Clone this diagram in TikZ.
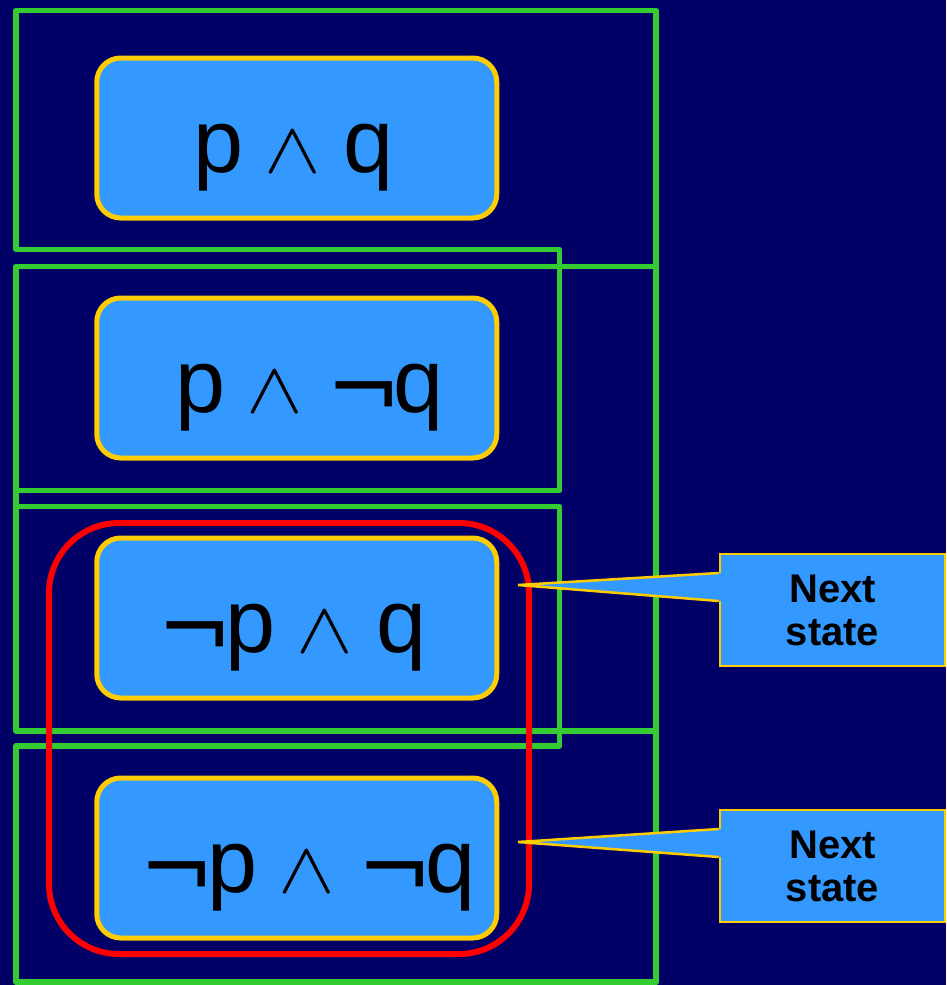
\documentclass[tikz,border=0pt]{standalone}
\usepackage{fontspec}
\setmainfont{Liberation Sans}
\newfontfamily\symfont{DejaVu Sans}
\usetikzlibrary{calc}

\definecolor{navybg}{RGB}{0,0,102}
\definecolor{framegreen}{RGB}{51,204,51}
\definecolor{boxyellow}{RGB}{255,204,0}
\definecolor{boxblue}{RGB}{51,153,255}
\definecolor{groupred}{RGB}{255,0,0}

% logical connectives
\newcommand\conj{\hspace{21pt}{\fontsize{20}{24}\selectfont\scalebox{4.1}[3.5]{$\wedge$}}\hspace{23pt}}
\newcommand\negsym{\raisebox{-7pt}{\symfont\fontsize{90}{100}\selectfont ¬}\kern-8pt}

\begin{document}
\begin{tikzpicture}[x=1pt,y=-1pt,
  frame/.style={draw=framegreen, line width=5.5pt, line join=round, line cap=round},
  statebox/.style={draw=boxyellow, fill=boxblue, line width=5pt, rounded corners=24pt,
    minimum width=400pt, minimum height=160pt, inner sep=0pt},
  formula/.style={anchor=base, inner sep=0pt, text=black, font=\fontsize{90}{100}\selectfont},
  redgroup/.style={draw=groupred, line width=6pt, rounded corners=70pt,
    minimum width=480pt, minimum height=431pt, inner sep=0pt},
  calloutbox/.style={draw=boxyellow, fill=boxblue, line width=2.5pt,
    minimum width=225pt, minimum height=112pt, inner sep=0pt, align=center,
    text=black, font=\fontsize{40}{43}\selectfont\bfseries},
  pointerline/.style={draw=boxyellow, line width=2.5pt, line join=miter}
]
% background
\fill[navybg] (0,0) rectangle (946,985);
\useasboundingbox (0,0) rectangle (946,985);

% green set frames
\draw[frame] (16,490.5) -- (559.5,490.5) -- (559.5,249.5) -- (16,249.5)
  -- (16,10.5) -- (656,10.5) -- (656,982);
\draw[frame] (16,266.5) rectangle (656,731);
\draw[frame] (16,506.5) -- (559.5,506.5) -- (559.5,746) -- (16,746)
  -- (16,982) -- (656,982);

% states
\node[statebox] (s1) at (296.75,138) {};
\node[statebox] (s2) at (296.75,378) {};
\node[statebox] (s3) at (296.75,618) {};
\node[statebox] (s4) at (296.75,858) {};

\node[formula] (f1) at (293.4,172) {p\conj{}q};
\node[formula] (f2) at (309.9,412) {p\conj{}\negsym{}q};
\node[formula] (f3) at (292,652) {\negsym{}p\conj{}q};
\node[formula] (f4) at (307.4,892) {\negsym{}p\conj{}\negsym{}q};

% group of the two states with not p
\node[redgroup] (grp) at (289,738.5) {};

% callouts
\node[calloutbox] (c1) at (832.5,610) {Next\\state};
\node[calloutbox] (c2) at (832.5,866) {Next\\state};
\coordinate (t1) at (518,585);
\coordinate (t2) at (518,842);

\foreach \c/\t in {c1/t1,c2/t2}{
  \fill[boxblue] ([xshift=-1pt,yshift=37pt]\c.west) -- (\t)
    -- ([xshift=-1pt,yshift=9pt]\c.west) -- ([xshift=3pt,yshift=9pt]\c.west)
    -- ([xshift=3pt,yshift=37pt]\c.west) -- cycle;
  \draw[pointerline] ([yshift=37pt]\c.west) -- (\t) -- ([yshift=9pt]\c.west);
}
\end{tikzpicture}
\end{document}
